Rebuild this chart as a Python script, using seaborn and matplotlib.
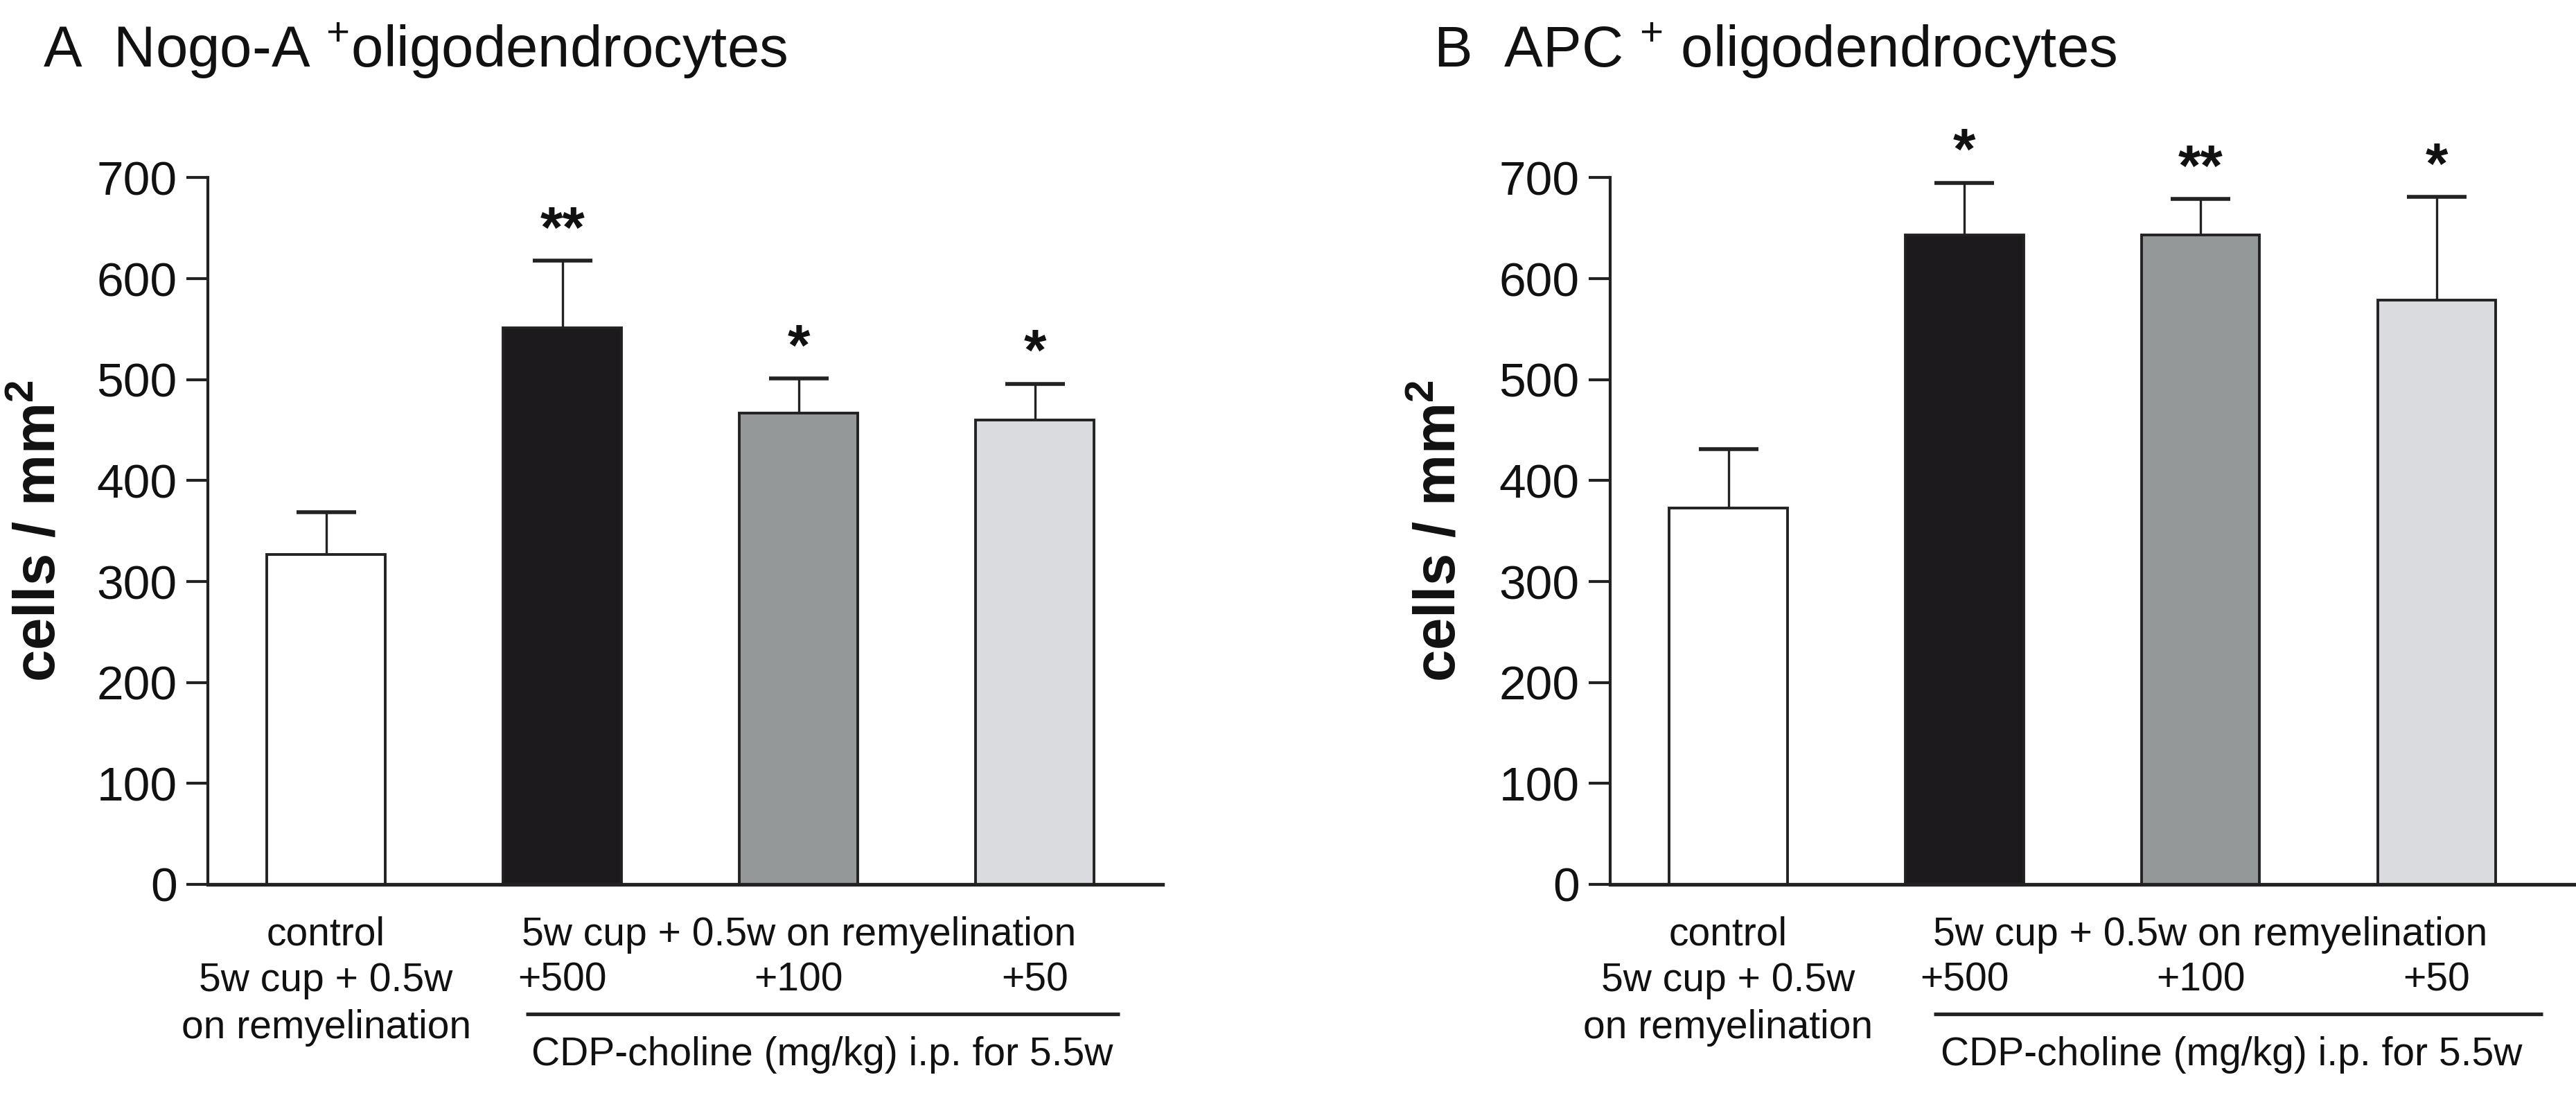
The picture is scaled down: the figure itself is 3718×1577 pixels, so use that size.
import numpy as np
import pandas as pd
import matplotlib
matplotlib.use("Agg")
import matplotlib.pyplot as plt
import seaborn as sns

# ---------------- data ----------------
groups = ["control", "+500", "+100", "+50"]
nogo_mean = [327, 551, 467, 460]
nogo_err = [42, 67, 34, 36]
apc_mean = [373, 643, 643, 579]
apc_err = [58, 52, 36, 102]
nogo_stars = ["", "**", "*", "*"]
apc_stars = ["", "*", "**", "*"]
bar_colors = ["#ffffff", "#1c1a1d", "#949899", "#dadbdf"]
yticks = [0, 100, 200, 300, 400, 500, 600, 700]
titles = ["A  Nogo-A $^{+}$oligodendrocytes", "B  APC $^{+}$ oligodendrocytes"]
ylabel = "cells / mm$^{\\mathbf{2}}$"
ctrl_lines = ["control", "5w cup + 0.5w", "on remyelination"]
group_text = "5w cup + 0.5w on remyelination"
dose_labels = ["+500", "+100", "+50"]
cdp_text = "CDP-choline (mg/kg) i.p. for 5.5w"

sns.set_theme(style="white")
plt.rcParams["font.family"] = ["Liberation Sans", "DejaVu Sans"]
plt.rcParams["mathtext.fontset"] = "custom"
plt.rcParams["mathtext.rm"] = "Liberation Sans"
plt.rcParams["mathtext.it"] = "Liberation Sans:italic"
plt.rcParams["mathtext.bf"] = "Liberation Sans:bold"

fig = plt.figure(figsize=(18.59, 7.885), dpi=200)
axA = fig.add_axes([0.0807, 0.1909, 0.3706, 0.6465])
axB = fig.add_axes([0.6251, 0.1909, 0.3749, 0.6465])

ink = "#222222"
panels = [
    (axA, nogo_mean, nogo_err, nogo_stars, (-0.5, 3.54), 0.0167, (0.845, 3.357), 2.10, 2.0),
    (axB, apc_mean, apc_err, apc_stars, (-0.5, 3.59), 0.5564, (0.869, 3.449), 2.13, 2.04),
]

for i, (ax, means, errs, stars, xlim, title_x, line_x, cdp_x, grp_x) in enumerate(panels):
    df = pd.DataFrame({"group": groups, "value": means})
    sns.barplot(data=df, x="group", y="value", hue="group", order=groups,
                hue_order=groups, palette=bar_colors, width=0.5,
                edgecolor=ink, linewidth=1.4, errorbar=None, legend=False,
                saturation=1, ax=ax)
    xs = np.arange(len(groups))
    m = np.array(means, dtype=float)
    e = np.array(errs, dtype=float)
    eb = ax.errorbar(xs, m, yerr=[np.zeros_like(e), e], fmt="none",
                     ecolor=ink, elinewidth=1.2, capsize=15.5, capthick=2.0,
                     zorder=1)
    eb[1][0].set_visible(False)
    for x, top, s in zip(xs, m + e, stars):
        if s:
            ax.annotate(s, (x, top), xytext=(0, 7), textcoords="offset points",
                        ha="center", va="baseline", fontsize=30,
                        fontweight="bold", color="#111111", annotation_clip=False)

    ax.set_xlim(*xlim)
    ax.set_ylim(0, 700)
    ax.set_yticks(yticks)
    ax.set_yticklabels([str(t) for t in yticks], fontsize=25, color="#111111")
    ax.set_xticks([])
    ax.set_xlabel("")
    ax.set_ylabel(ylabel, fontsize=30, fontweight="bold", color="#111111",
                  va="center")
    ax.yaxis.set_label_coords(-0.176, 0.5)
    sns.despine(ax=ax)
    ax.spines["left"].set_linewidth(1.5)
    ax.spines["left"].set_color(ink)
    ax.spines["bottom"].set_linewidth(1.9)
    ax.spines["bottom"].set_color(ink)
    ax.tick_params(axis="y", direction="out", length=11, width=1.5,
                   color=ink, pad=5, left=True)

    tr = ax.get_xaxis_transform()
    for k, line in enumerate(ctrl_lines):
        ax.text(0, [-0.0863, -0.151, -0.2178][k], line, transform=tr,
                ha="center", va="baseline", fontsize=20.5, color="#111111")
    ax.text(grp_x, -0.0863, group_text, transform=tr, ha="center",
            va="baseline", fontsize=20.5, color="#111111")
    for x, lab in zip(xs[1:], dose_labels):
        ax.text(x, -0.151, lab, transform=tr, ha="center", va="baseline",
                fontsize=20.5, color="#111111")
    ax.plot(list(line_x), [-0.1834, -0.1834], transform=tr, color=ink,
            lw=1.9, clip_on=False, solid_capstyle="butt")
    ax.text(cdp_x, -0.256, cdp_text, transform=tr, ha="center",
            va="baseline", fontsize=20.5, color="#111111")

    fig.text(title_x, 0.9385, titles[i], ha="left", va="baseline",
             fontsize=30, color="#111111")

fig.savefig("out.png", dpi=200, facecolor="white")
